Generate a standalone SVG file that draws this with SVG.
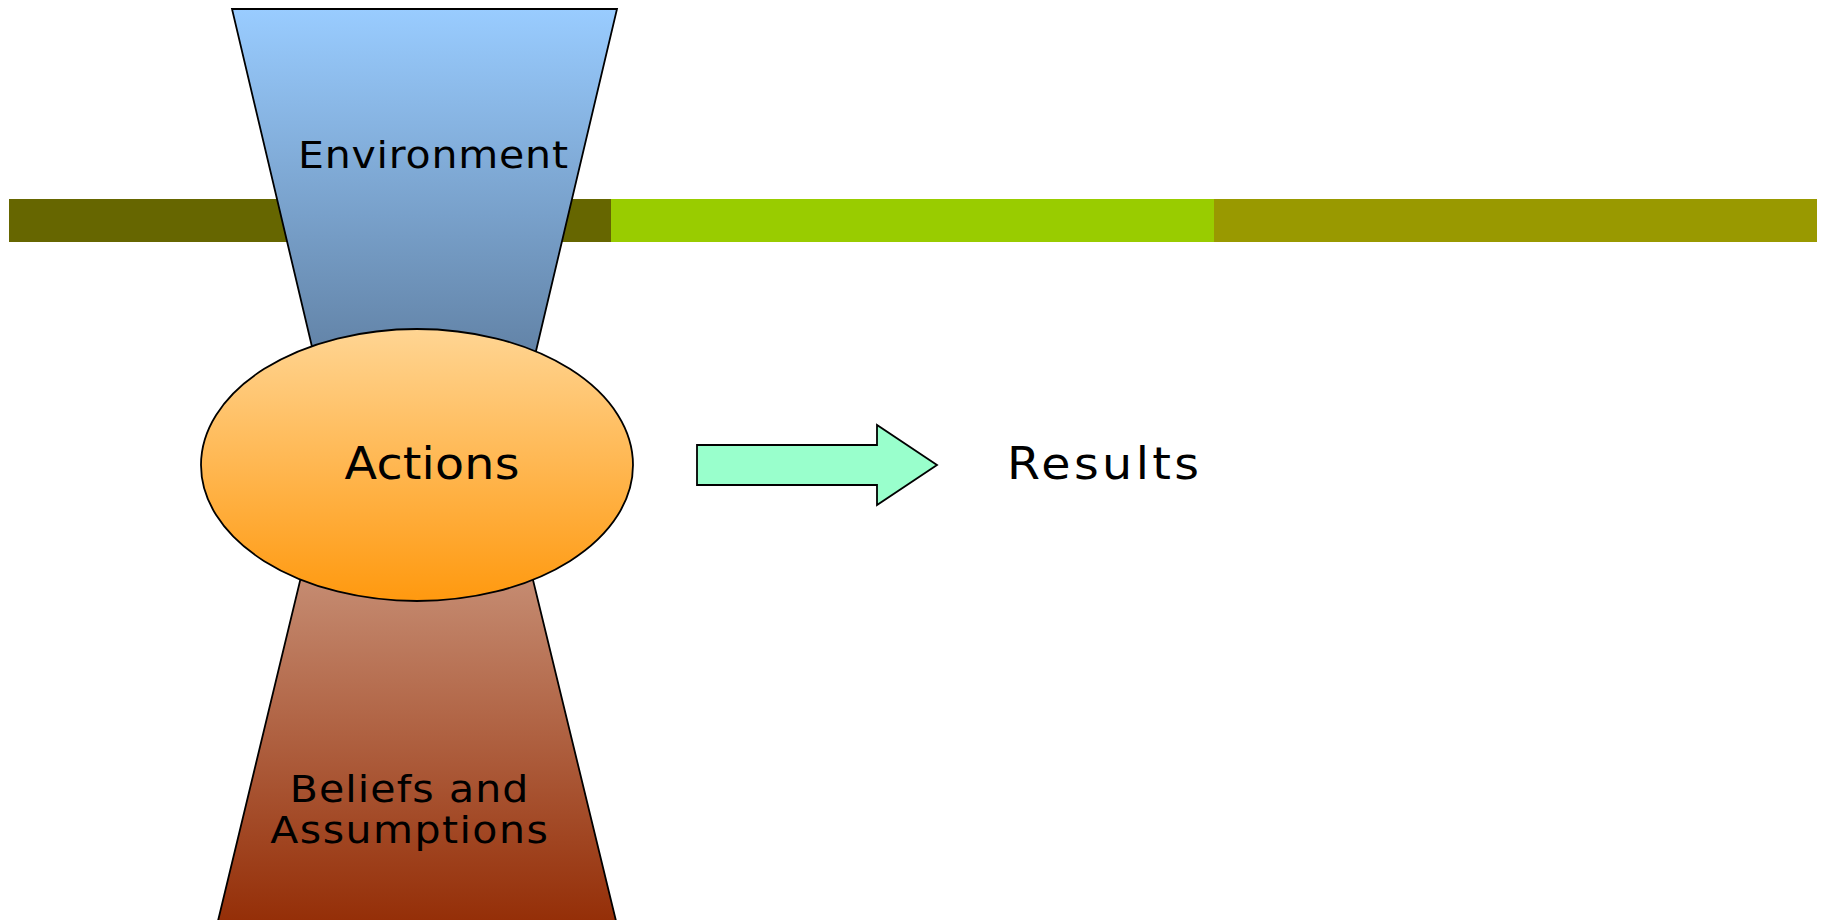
<svg xmlns="http://www.w3.org/2000/svg" width="1825" height="920" viewBox="0 0 1825 920">
<style>
.lbl{font-family:"DejaVu Sans","Liberation Sans",sans-serif;fill:#000;text-anchor:middle}
.shape{stroke:#000;stroke-width:1.8;stroke-linejoin:miter}
</style>
<defs>
<linearGradient id="gTop" gradientUnits="userSpaceOnUse" x1="0" y1="9" x2="0" y2="350">
<stop offset="0" stop-color="#99CCFF"/><stop offset="1" stop-color="#6384A8"/>
</linearGradient>
<linearGradient id="gEll" gradientUnits="userSpaceOnUse" x1="0" y1="329" x2="0" y2="601">
<stop offset="0" stop-color="#FFD593"/><stop offset="1" stop-color="#FF990F"/>
</linearGradient>
<linearGradient id="gBot" gradientUnits="userSpaceOnUse" x1="0" y1="580" x2="0" y2="920">
<stop offset="0" stop-color="#C58B71"/><stop offset="1" stop-color="#952F08"/>
</linearGradient>
</defs>
<g id="bar">
<rect x="9" y="199" width="602" height="43" fill="#666600"/>
<rect x="611" y="199" width="603" height="43" fill="#99CC00"/>
<rect x="1214" y="199" width="603" height="43" fill="#999900"/>
</g>
<g id="environment">
<polygon class="shape" points="232,9 617,9 509,465 340,465" fill="url(#gTop)"/>
<text class="lbl" transform="translate(433,168) scale(1.08,1)" font-size="38" textLength="250" lengthAdjust="spacing">Environment</text>
</g>
<g id="beliefs">
<polygon class="shape" points="328,465 505,465 617,925 217,925" fill="url(#gBot)"/>
<text class="lbl" transform="translate(409,802) scale(1.08,1)" font-size="38" textLength="221" lengthAdjust="spacing">Beliefs and</text>
<text class="lbl" transform="translate(409,843) scale(1.08,1)" font-size="38" textLength="257" lengthAdjust="spacing">Assumptions</text>
</g>
<g id="actions">
<ellipse class="shape" cx="417" cy="465" rx="216" ry="136" fill="url(#gEll)"/>
<text class="lbl" transform="translate(432,479) scale(1.08,1)" font-size="44" textLength="162" lengthAdjust="spacing">Actions</text>
</g>
<g id="connectors">
<polygon class="shape" points="697,445 877,445 877,425 937,465 877,505 877,485 697,485" fill="#99FFCC"/>
</g>
<g id="results">
<text class="lbl" transform="translate(1103,479) scale(1.08,1)" font-size="44" textLength="178" lengthAdjust="spacing">Results</text>
</g>
</svg>
